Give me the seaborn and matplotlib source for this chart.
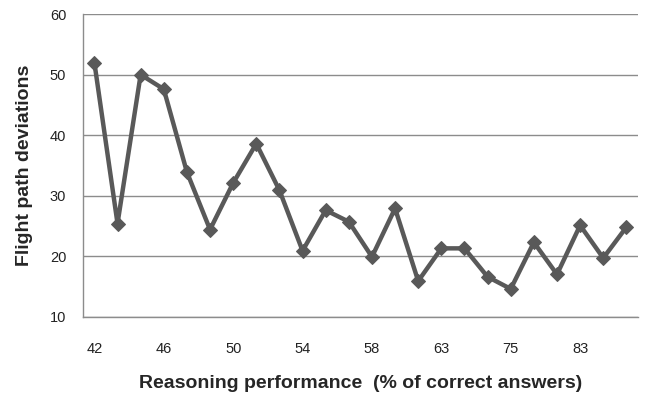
import numpy as np
import pandas as pd
import seaborn as sns
import matplotlib.pyplot as plt

# category positions and the labels Excel shows (every 3rd category)
shown_labels = ['42', '46', '50', '54', '58', '63', '75', '83']
deviations = [52.0, 25.4, 50.0, 47.6, 33.9, 24.4, 32.1, 38.6, 30.9, 20.9,
              27.6, 25.7, 19.9, 27.9, 15.9, 21.3, 21.3, 16.6, 14.6, 22.3,
              17.0, 25.1, 19.7, 24.8]
y_ticks = [10, 20, 30, 40, 50, 60]

sns.set_style('white')
plt.rcParams['font.family'] = ['Liberation Sans', 'DejaVu Sans']

df = pd.DataFrame({'pos': np.arange(len(deviations)), 'dev': deviations})

fig = plt.figure(figsize=(6.47, 4.03), dpi=100)
ax = fig.add_axes([0.128, 0.214, 0.858, 0.751])

sns.lineplot(data=df, x='pos', y='dev', ax=ax, color='#595959', linewidth=3.2,
             marker='D', markersize=7, markeredgecolor='#595959')

ax.set_xlim(-0.5, len(deviations) - 0.5)
ax.set_ylim(10, 60)
ax.set_yticks(y_ticks)
ax.yaxis.grid(True, color='#8c8c8c', linewidth=1)
ax.set_axisbelow(True)

ax.set_xticks(np.arange(0, len(deviations), 3))
ax.set_xticklabels(shown_labels)
ax.set_xticks(np.arange(-0.5, len(deviations), 1), minor=True)
ax.tick_params(axis='x', which='major', length=0, pad=18, labelsize=10.5,
               labelcolor='#222222')
ax.tick_params(axis='x', which='minor', length=5, color='#8c8c8c', width=1)
ax.tick_params(axis='y', length=5, color='#8c8c8c', width=1, labelsize=10.5,
               pad=7, labelcolor='#222222')

for s in ['top', 'right']:
    ax.spines[s].set_visible(False)
for s in ['left', 'bottom']:
    ax.spines[s].set_color('#8c8c8c')
    ax.spines[s].set_linewidth(1)

ax.set_xlabel('Reasoning performance  (% of correct answers)', fontsize=14,
              fontweight='bold', labelpad=14)
ax.set_ylabel('Flight path deviations', fontsize=14, fontweight='bold', labelpad=12)

fig.savefig('out.png', dpi=100)
